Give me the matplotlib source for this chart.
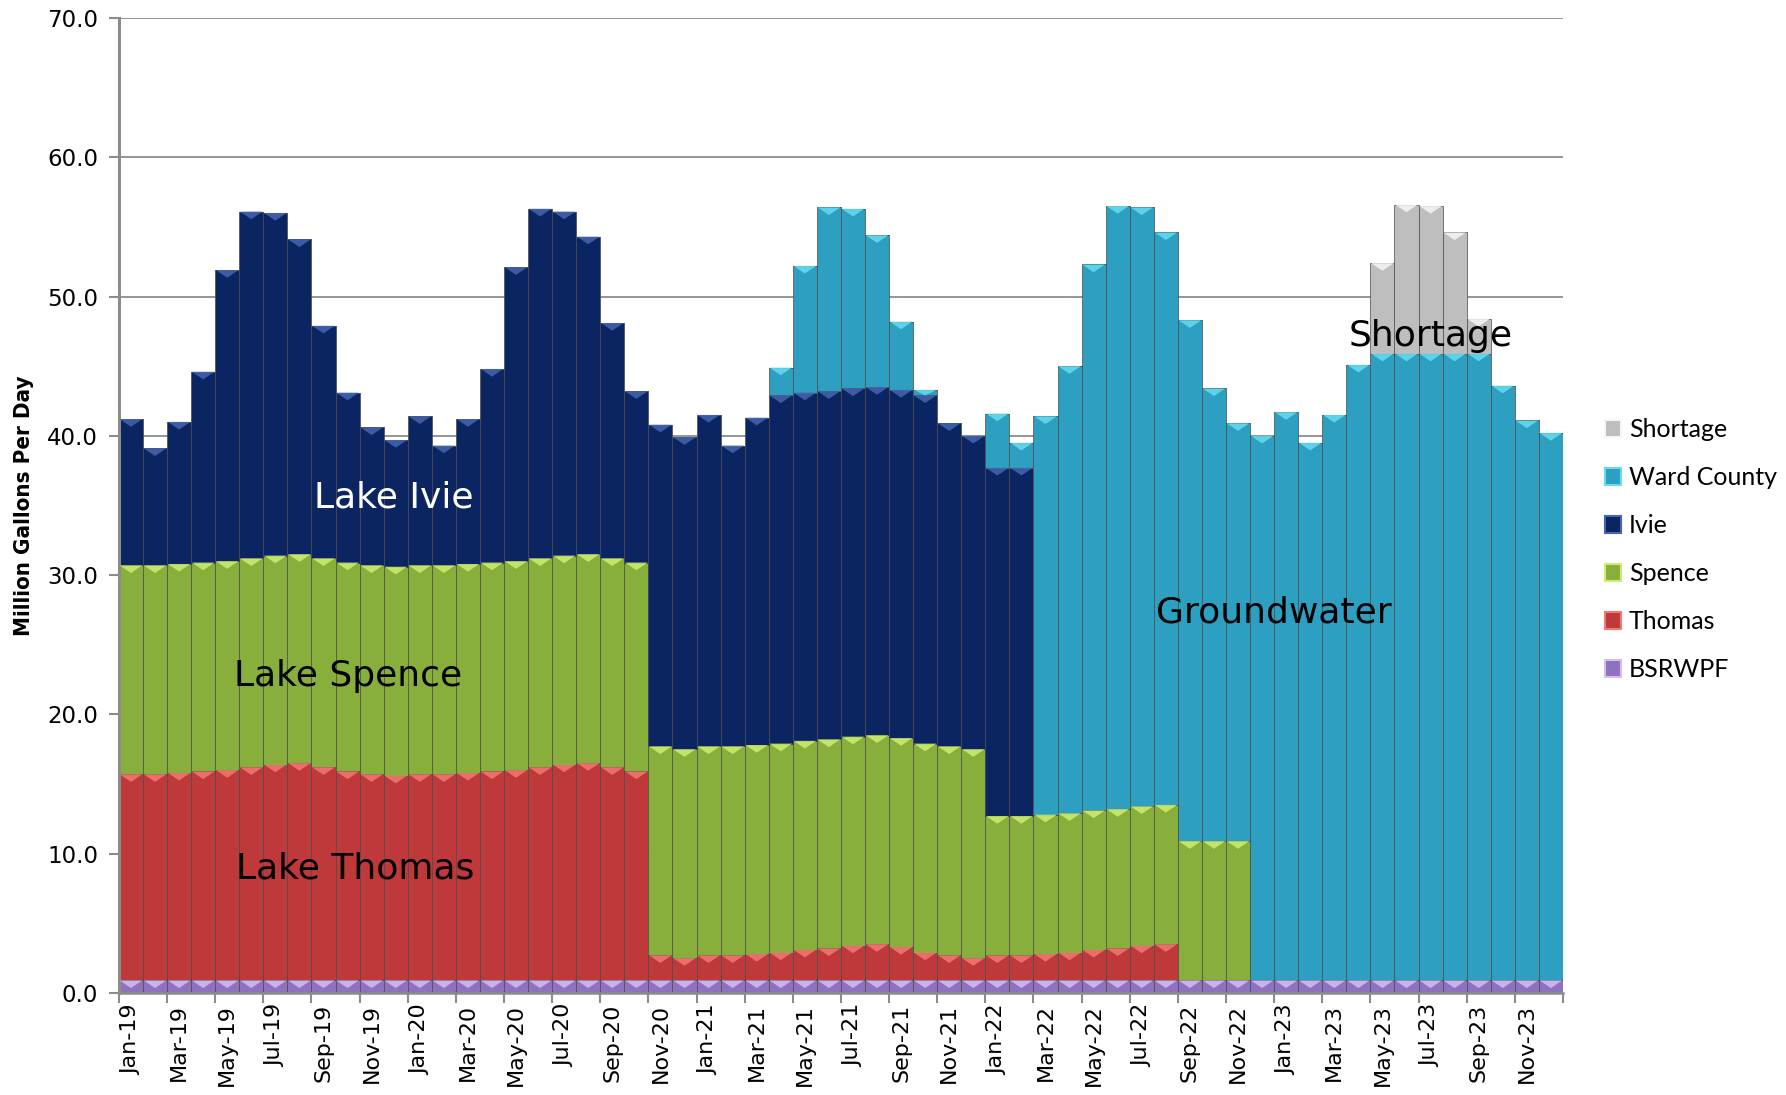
import numpy as np
import matplotlib.pyplot as plt
from matplotlib.collections import PolyCollection
from matplotlib.patches import Patch

# Monthly supply by source, Million Gallons Per Day (Jan-19 .. Dec-23)
months = ["Jan", "Feb", "Mar", "Apr", "May", "Jun", "Jul", "Aug", "Sep", "Oct", "Nov", "Dec"]
labels = [f"{m}-{y}" for y in ["19", "20", "21", "22", "23"] for m in months]

bsrwpf = [0.9] * 60

thomas = [14.8, 14.8, 14.9, 15.0, 15.1, 15.3, 15.5, 15.6, 15.3, 15.0, 14.8, 14.7,
          14.8, 14.8, 14.9, 15.0, 15.1, 15.3, 15.5, 15.6, 15.3, 15.0, 1.8, 1.6,
          1.8, 1.8, 1.9, 2.0, 2.2, 2.3, 2.5, 2.6, 2.4, 2.0, 1.8, 1.6,
          1.8, 1.8, 1.9, 2.0, 2.2, 2.3, 2.5, 2.6, 0, 0, 0, 0,
          0, 0, 0, 0, 0, 0, 0, 0, 0, 0, 0, 0]

spence = [15.0] * 36 + [10.0] * 11 + [0] * 13

ivie = [10.5, 8.4, 10.2, 13.7, 20.9, 24.9, 24.6, 22.6, 16.7, 12.2, 9.9, 9.1,
        10.7, 8.6, 10.4, 13.9, 21.1, 25.1, 24.7, 22.8, 16.9, 12.3, 23.1, 22.4,
        23.8, 21.6, 23.5, 25.0, 25.0, 25.0, 25.0, 25.0, 25.0, 25.0, 23.2, 22.5,
        25.0, 25.0, 0, 0, 0, 0, 0, 0, 0, 0, 0, 0,
        0, 0, 0, 0, 0, 0, 0, 0, 0, 0, 0, 0]

ward = [0] * 27 + [2.0, 9.1, 13.2, 12.9, 10.9, 4.9, 0.4, 0, 0,
        3.9, 1.8, 28.6, 32.1, 39.2, 43.3, 43.0, 41.1, 37.4, 32.5, 30.0, 39.1,
        40.8, 38.6, 40.6, 44.2, 45.0, 45.0, 45.0, 45.0, 45.0, 42.7, 40.2, 39.3]

shortage = [0] * 52 + [6.5, 10.7, 10.6, 8.7, 2.5, 0, 0, 0]

series = [("BSRWPF", bsrwpf, "#8F72BF", "#D4BFF5"),
          ("Thomas", thomas, "#BF383A", "#F27A72"),
          ("Spence", spence, "#88AF3C", "#CDEE70"),
          ("Ivie", ivie, "#0B2562", "#4565B0"),
          ("Ward County", ward, "#2D9FC1", "#66DDF2"),
          ("Shortage", shortage, "#BEBEBE", "#F6F6F6")]

fig = plt.figure(figsize=(17.86, 10.95), dpi=100)
ax = fig.add_axes([0.0666, 0.0932, 0.8085, 0.8904])

x = np.arange(len(labels))
bottom = np.zeros(len(labels))
caps = []
cap_colors = []
handles = []
for name, vals, color, light in series:
    vals = np.array(vals, dtype=float)
    ax.bar(x, vals, width=1.0, bottom=bottom, color=color,
           edgecolor="#4a4a4a", linewidth=0.5, zorder=2)
    top = bottom + vals
    for xi, t, v in zip(x, top, vals):
        if v > 0:
            d = min(0.55, v)
            caps.append([(xi - 0.47, t), (xi + 0.47, t), (xi, t - d)])
            cap_colors.append(light)
    bottom = top
    handles.append(Patch(facecolor=color, edgecolor=light, linewidth=1.5, label=name))

ax.add_collection(PolyCollection(caps, facecolors=cap_colors, edgecolors="none",
                                 alpha=0.85, zorder=3))

ax.set_xlim(-0.5, len(labels) - 0.5)
ax.set_ylim(0, 70)
ax.set_yticks(np.arange(0, 71, 10))
ax.set_yticklabels([f"{v:.1f}" for v in np.arange(0, 71, 10)],
                   fontsize=16.5, family="DejaVu Sans")
ax.yaxis.grid(True, color="#8c8c8c", linewidth=1.3, zorder=0)
ax.set_axisbelow(True)

ax.set_xticks(x[::2])
ax.set_xticklabels(labels[::2], rotation=90, fontsize=16, family="DejaVu Sans")
ax.set_xticks(np.arange(-0.5, len(labels), 2), minor=True)
ax.tick_params(axis="x", which="major", length=0, pad=8)
ax.tick_params(axis="x", which="minor", length=7, width=1.5, color="#8c8c8c")
ax.tick_params(axis="y", length=7, width=1.5, color="#8c8c8c", pad=8)

for s in ["top", "right"]:
    ax.spines[s].set_visible(False)
ax.spines["left"].set_color("#8c8c8c")
ax.spines["left"].set_linewidth(2.2)
ax.spines["bottom"].set_color("#8c8c8c")
ax.spines["bottom"].set_linewidth(1.8)

fig.text(0.0134, 0.538, "Million Gallons Per Day", rotation=90, ha="center", va="center",
         fontsize=16, fontweight="bold", fontstretch="condensed", family="DejaVu Sans")

# source labels on the chart
ax.text(10.9, 35.6, "Lake Ivie", color="white", fontsize=26, ha="center", va="center", zorder=5)
ax.text(9.0, 22.75, "Lake Spence", color="black", fontsize=26, ha="center", va="center", zorder=5)
ax.text(9.3, 8.9, "Lake Thomas", color="black", fontsize=26, ha="center", va="center", zorder=5)
ax.text(47.5, 27.35, "Groundwater", color="black", fontsize=26, ha="center", va="center", zorder=5)
ax.text(54.0, 47.2, "Shortage", color="black", fontsize=26, ha="center", va="center", zorder=5)

fig.legend(handles=handles[::-1], loc="center left", bbox_to_anchor=(0.886, 0.498),
           frameon=False, prop={"family": ["Lato", "DejaVu Sans"], "size": 18},
           handlelength=0.65, handleheight=0.65, handletextpad=0.3, labelspacing=1.0)

fig.savefig("out.png", dpi=100)
